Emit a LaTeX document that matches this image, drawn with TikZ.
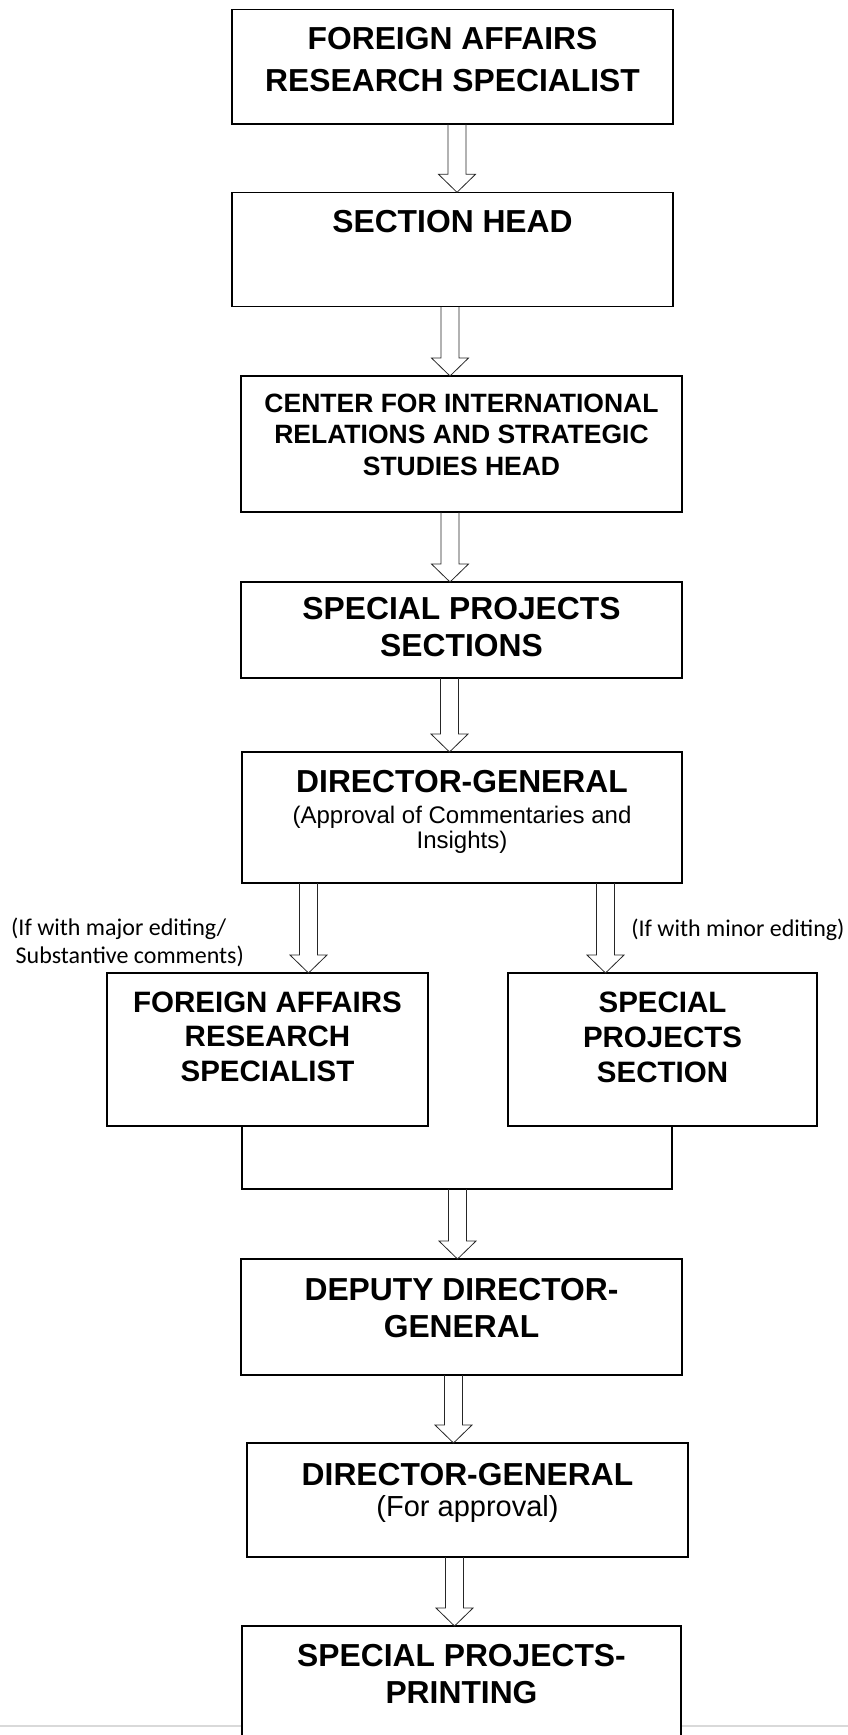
\documentclass[tikz,border=0pt]{standalone}
\usepackage{fontspec}
\setmainfont{Liberation Sans}
\newfontfamily\notefont{Carlito}
\usetikzlibrary{calc}

\tikzset{
  box/.style={draw=black, line width=1.5pt, fill=white, inner sep=0pt, outer sep=0pt},
  boxtitle/.style={anchor=north, inner sep=0pt, align=center,
    font=\bfseries\fontsize{31.8pt}{#1}\selectfont},
  boxtitle/.default=37pt,
  smalltitle/.style={anchor=north, inner sep=0pt, align=center,
    font=\bfseries\fontsize{29.5pt}{#1}\selectfont},
  boxnote/.style={anchor=north, inner sep=0pt, align=center,
    font=\fontsize{#1}{25.5pt}\selectfont},
  blockarrow/.style={draw=black!85, line width=0.8pt, line join=miter},
  link/.style={draw=black, line width=1.4pt},
  sidenote/.style={inner sep=0pt, align=left, font=\notefont\fontsize{24pt}{28pt}\selectfont},
}

% hollow block arrow: shaft axis x, start point, tip point
\newcommand\flowarrow[3]{%
  \draw[blockarrow] let \p1=(#2), \p2=(#3) in
    ({(#1-9)*1pt},\y1) -- ({(#1-9)*1pt},{\y2+18pt}) -- ({(#1-18.5)*1pt},{\y2+18pt})
    -- ({#1*1pt},\y2) -- ({(#1+18.5)*1pt},{\y2+18pt}) -- ({(#1+9)*1pt},{\y2+18pt})
    -- ({(#1+9)*1pt},\y1);}

\begin{document}
\begin{tikzpicture}[x=1pt, y=-1pt]
\useasboundingbox (0,0) rectangle (848,1735);

% thin rule across the foot of the page
\draw[black!15, line width=2pt] (0,1726) -- (848,1726);

% boxes
\node[box, minimum width=441pt, minimum height=114.7pt] (b1) at (452.5,66.6) {};
\node[boxtitle=41.7pt] (t1) at (452.5,26.9) {FOREIGN AFFAIRS\\RESEARCH SPECIALIST};

\node[box, minimum width=441pt, minimum height=114.4pt] (b2) at (452.5,249.5) {};
\node[boxtitle] (t2) at (452.5,210.2) {SECTION HEAD};

\node[box, minimum width=441pt, minimum height=136pt] (b3) at (461.5,444) {};
\node[anchor=north, inner sep=0pt, align=center, font=\bfseries\fontsize{26.5pt}{31.5pt}\selectfont]
  (t3) at (461.5,393.4) {CENTER FOR INTERNATIONAL\\RELATIONS AND STRATEGIC\\STUDIES HEAD};

\node[box, minimum width=441pt, minimum height=96pt] (b4) at (461.5,630) {};
\node[boxtitle=36.7pt] (t4) at (461.5,596.9) {SPECIAL PROJECTS\\SECTIONS};

\node[box, minimum width=440pt, minimum height=131pt] (b5) at (462,817.5) {};
\node[boxtitle] (t5) at (462,769.6) {DIRECTOR-GENERAL};
\node[boxnote=24pt] (s5) at (462,805.8) {(Approval of Commentaries and\\Insights)};

\node[box, minimum width=321pt, minimum height=153pt] (L) at (267.5,1049.5) {};
\node[smalltitle=34.5pt] (tL) at (267.5,991.5) {FOREIGN AFFAIRS\\RESEARCH\\SPECIALIST};

\node[box, minimum width=309pt, minimum height=153pt] (R) at (662.5,1049.5) {};
\node[smalltitle=35pt] (tR) at (662.5,991.5) {SPECIAL\\PROJECTS\\SECTION};

\node[box, minimum width=441pt, minimum height=116pt] (b6) at (461.5,1317) {};
\node[boxtitle=37pt] (t6) at (461.5,1277.9) {DEPUTY DIRECTOR-\\GENERAL};

\node[box, minimum width=441pt, minimum height=114pt] (b7) at (467.5,1500) {};
\node[boxtitle] (t7) at (467.5,1462.9) {DIRECTOR-GENERAL};
\node[boxnote=29pt] (s7) at (467.5,1495.5) {(For approval)};

\node[box, minimum width=439pt, minimum height=134pt] (b8) at (461.5,1693) {};
\node[boxtitle=37pt] (t8) at (461.5,1643.9) {SPECIAL PROJECTS-\\PRINTING};

% side notes on the two branches
\node[sidenote, anchor=north west] (noteL) at (11,918.2)
  {(If with major editing/\\\hspace*{4.5pt}Substantive comments)};
\node[sidenote, anchor=base west] (noteR) at (631.2,936) {(If with minor editing)};

% joining bracket under the two branch boxes
\coordinate (jl) at (242,1189);
\coordinate (jr) at (672,1189);
\coordinate (join) at (457.5,1189);
\draw[link] (jl |- L.south) -- (jl) -- (jr) -- (jr |- R.south);

% block arrows
\flowarrow{457}{b1.south}{b2.north}
\flowarrow{450}{b2.south}{b3.north}
\flowarrow{450}{b3.south}{b4.north}
\flowarrow{449.5}{b4.south}{b5.north}
\flowarrow{308.5}{b5.south}{L.north}
\flowarrow{605.5}{b5.south}{R.north}
\flowarrow{457.5}{join}{b6.north}
\flowarrow{453.5}{b6.south}{b7.north}
\flowarrow{454.5}{b7.south}{b8.north}
\end{tikzpicture}
\end{document}
